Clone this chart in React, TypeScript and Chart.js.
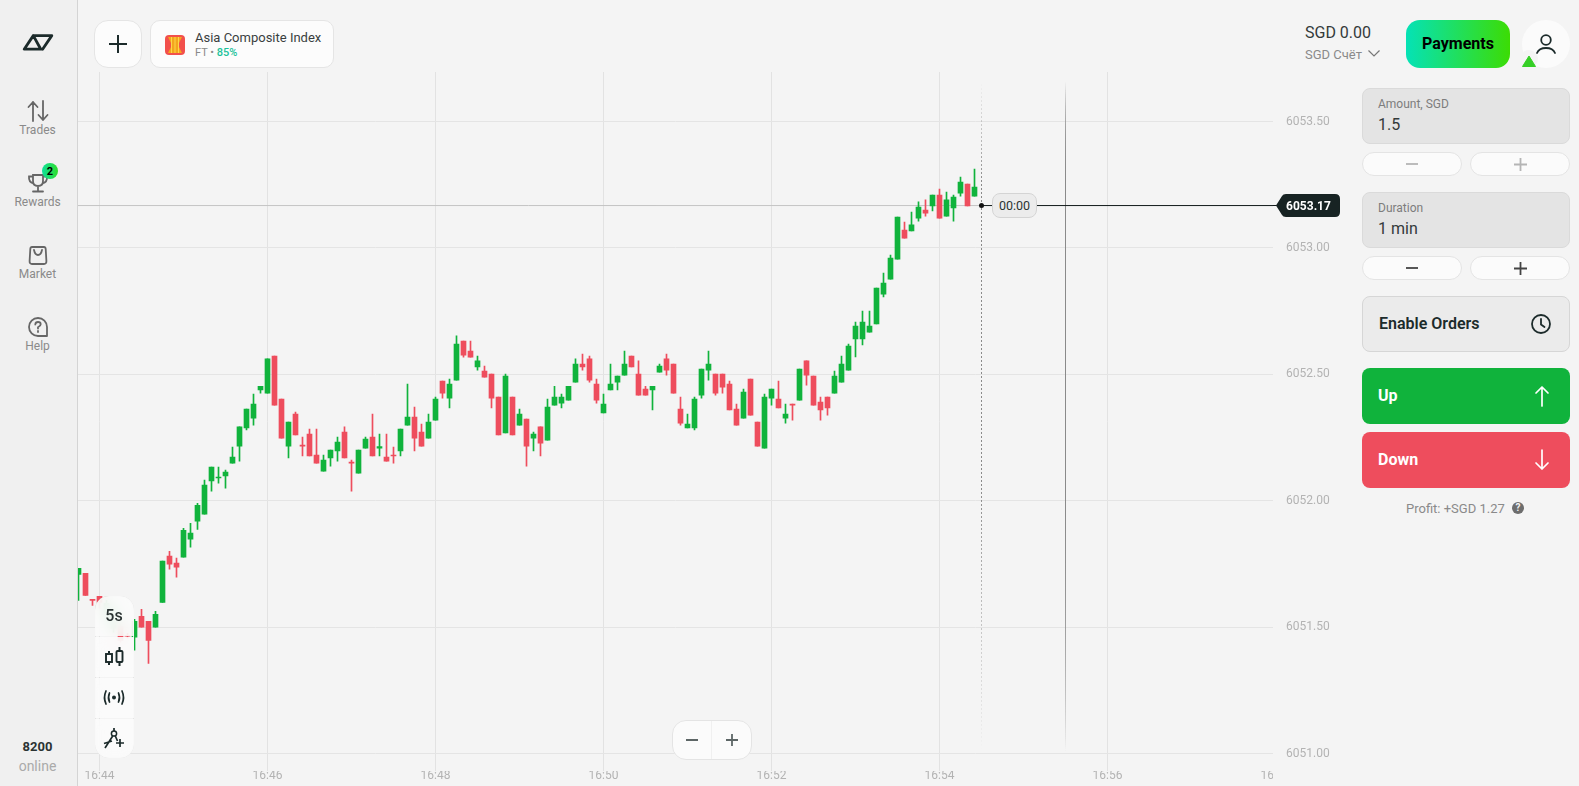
import React, { useEffect, useRef } from "react";
import { Chart, registerables } from "chart.js";

Chart.register(...registerables);

// 5-second candles; first candle opens 15 s before 16:44:00
const firstCandleSecond = -15;
const candleSeconds = 5;

const opens = [
  6051.709,6051.713,6051.610,6051.622,6051.559,6051.496,6051.503,6051.468,6051.460,6051.543,
  6051.523,6051.500,6051.598,6051.781,6051.753,6051.777,6051.848,6051.919,6051.947,6052.078,
  6052.090,6052.098,6052.149,6052.216,6052.288,6052.327,6052.438,6052.426,6052.572,6052.402,
  6052.216,6052.343,6052.220,6052.264,6052.181,6052.117,6052.169,6052.197,6052.272,6052.153,
  6052.109,6052.208,6052.252,6052.208,6052.173,6052.181,6052.197,6052.299,6052.331,6052.272,
  6052.248,6052.319,6052.473,6052.406,6052.477,6052.632,6052.592,6052.529,6052.513,6052.501,
  6052.410,6052.268,6052.410,6052.299,6052.323,6052.248,6052.292,6052.240,6052.378,6052.386,
  6052.398,6052.469,6052.541,6052.561,6052.462,6052.347,6052.438,6052.469,6052.497,6052.572,
  6052.501,6052.442,6052.438,6052.509,6052.561,6052.541,6052.363,6052.288,6052.288,6052.418,
  6052.517,6052.501,6052.501,6052.462,6052.363,6052.327,6052.481,6052.311,6052.208,6052.406,
  6052.402,6052.327,6052.382,6052.398,6052.553,6052.493,6052.390,6052.410,6052.426,6052.469,
  6052.517,6052.640,6052.640,6052.667,6052.699,6052.817,6052.877,6052.956,6053.071,6053.067,
  6053.118,6053.150,6053.166,6053.209,6053.126,6053.158,6053.217,6053.253,6053.205,
];
const highs = [
  6051.733,6051.713,6051.610,6051.622,6051.606,6051.575,6051.511,6051.476,6051.531,6051.571,
  6051.523,6051.563,6051.761,6051.800,6051.773,6051.891,6051.911,6051.990,6052.082,6052.133,
  6052.133,6052.121,6052.212,6052.292,6052.363,6052.422,6052.453,6052.561,6052.572,6052.402,
  6052.311,6052.351,6052.252,6052.284,6052.284,6052.181,6052.200,6052.252,6052.292,6052.161,
  6052.200,6052.252,6052.343,6052.264,6052.264,6052.212,6052.284,6052.462,6052.371,6052.303,
  6052.343,6052.410,6052.473,6052.481,6052.652,6052.632,6052.632,6052.572,6052.533,6052.501,
  6052.410,6052.501,6052.410,6052.363,6052.323,6052.272,6052.292,6052.402,6052.453,6052.422,
  6052.453,6052.561,6052.580,6052.572,6052.481,6052.422,6052.541,6052.493,6052.592,6052.572,
  6052.553,6052.453,6052.453,6052.541,6052.580,6052.541,6052.410,6052.343,6052.410,6052.521,
  6052.592,6052.501,6052.501,6052.473,6052.382,6052.442,6052.481,6052.311,6052.422,6052.442,
  6052.473,6052.382,6052.382,6052.521,6052.553,6052.493,6052.410,6052.410,6052.513,6052.572,
  6052.620,6052.707,6052.750,6052.750,6052.841,6052.901,6052.972,6053.122,6053.102,6053.142,
  6053.182,6053.190,6053.209,6053.233,6053.221,6053.209,6053.280,6053.253,6053.312,
];
const lows = [
  6051.606,6051.626,6051.586,6051.575,6051.547,6051.480,6051.440,6051.456,6051.409,6051.500,
  6051.357,6051.500,6051.598,6051.729,6051.698,6051.777,6051.816,6051.887,6051.947,6052.038,
  6052.070,6052.050,6052.149,6052.157,6052.280,6052.299,6052.426,6052.426,6052.378,6052.248,
  6052.169,6052.260,6052.177,6052.177,6052.149,6052.117,6052.137,6052.157,6052.169,6052.038,
  6052.109,6052.208,6052.177,6052.177,6052.157,6052.149,6052.177,6052.299,6052.197,6052.216,
  6052.248,6052.319,6052.406,6052.367,6052.477,6052.568,6052.568,6052.517,6052.489,6052.367,
  6052.260,6052.268,6052.260,6052.299,6052.137,6052.197,6052.177,6052.240,6052.378,6052.367,
  6052.398,6052.469,6052.517,6052.469,6052.386,6052.347,6052.438,6052.438,6052.497,6052.529,
  6052.418,6052.418,6052.359,6052.509,6052.497,6052.426,6052.299,6052.288,6052.280,6052.406,
  6052.477,6052.418,6052.426,6052.359,6052.299,6052.327,6052.339,6052.216,6052.208,6052.378,
  6052.367,6052.307,6052.319,6052.398,6052.457,6052.378,6052.319,6052.339,6052.426,6052.469,
  6052.517,6052.569,6052.616,6052.667,6052.699,6052.806,6052.877,6052.956,6053.039,6053.067,
  6053.106,6053.126,6053.146,6053.118,6053.126,6053.106,6053.205,6053.166,6053.205,
];
const closes = [
  6051.733,6051.626,6051.606,6051.598,6051.594,6051.559,6051.448,6051.464,6051.523,6051.500,
  6051.448,6051.551,6051.761,6051.749,6051.737,6051.883,6051.872,6051.982,6052.062,6052.133,
  6052.094,6052.113,6052.173,6052.292,6052.363,6052.382,6052.453,6052.561,6052.378,6052.248,
  6052.311,6052.260,6052.216,6052.177,6052.149,6052.161,6052.200,6052.232,6052.169,6052.149,
  6052.200,6052.244,6052.177,6052.214,6052.157,6052.177,6052.284,6052.331,6052.248,6052.216,
  6052.311,6052.402,6052.426,6052.462,6052.620,6052.576,6052.568,6052.553,6052.489,6052.406,
  6052.260,6052.493,6052.260,6052.343,6052.216,6052.264,6052.228,6052.371,6052.410,6052.410,
  6052.453,6052.541,6052.529,6052.477,6052.398,6052.382,6052.462,6052.493,6052.541,6052.529,
  6052.418,6052.418,6052.453,6052.533,6052.517,6052.426,6052.307,6052.303,6052.402,6052.521,
  6052.541,6052.426,6052.449,6052.359,6052.299,6052.430,6052.339,6052.216,6052.410,6052.442,
  6052.367,6052.343,6052.378,6052.521,6052.497,6052.378,6052.359,6052.367,6052.493,6052.541,
  6052.612,6052.691,6052.707,6052.691,6052.841,6052.861,6052.960,6053.122,6053.039,6053.091,
  6053.162,6053.138,6053.209,6053.118,6053.190,6053.201,6053.261,6053.166,6053.241,
];

const currentPrice = 6053.1677;
const nowSecond = 630; // 16:54:30
const expirySecond = 690; // 16:55:30
const timeAxisMin = -17.5;
const timeAxisMax = 840;
const priceAxisMin = 6050.931;
const priceAxisMax = 6053.696;
const priceTickStep = 0.5;
const timeTickStep = 120;
const startHour = 16;
const startMinute = 44;

const UP = "#10b33c";
const DOWN = "#ee4d5d";
const INK = "#1c2b2b";
const FONT = "Roboto, sans-serif";

const secondsLabel = (s: number) => {
  const total = startHour * 60 + startMinute + Math.round(s / 60);
  return `${Math.floor(total / 60)}:${String(total % 60).padStart(2, "0")}`;
};

type TP = { x: number; y: number; c?: string; s?: number; w?: number; center?: boolean; children: React.ReactNode };
const T = ({ x, y, c = "#333", s = 12, w = 400, center, children }: TP) => (
  <div
    style={{
      position: "absolute", left: x, top: y, color: c, fontSize: s, fontWeight: w, lineHeight: 1,
      whiteSpace: "nowrap", fontFamily: FONT,
      transform: center ? "translate(-50%,-50%)" : "translateY(-50%)",
    }}
  >
    {children}
  </div>
);

const Box = ({ x, y, w, h, bg, b, r, style, children }: any) => (
  <div
    style={{
      position: "absolute", left: x, top: y, width: w, height: h, background: bg,
      border: b ? `1px solid ${b}` : undefined, borderRadius: r, boxSizing: "border-box", ...style,
    }}
  >
    {children}
  </div>
);

const Svg = ({ x, y, w, h, vb, children }: any) => (
  <svg
    style={{ position: "absolute", left: x, top: y, overflow: "visible" }}
    width={w} height={h} viewBox={vb ?? `0 0 ${w} ${h}`} fill="none"
  >
    {children}
  </svg>
);

const Plus = ({ cx, cy, size = 14, c = "#555", sw = 1.8 }: any) => (
  <Svg x={cx - size / 2} y={cy - size / 2} w={size} h={size}>
    <path d={`M0 ${size / 2}H${size}M${size / 2} 0V${size}`} stroke={c} strokeWidth={sw} />
  </Svg>
);
const Minus = ({ cx, cy, size = 12, c = "#555", sw = 1.8 }: any) => (
  <Svg x={cx - size / 2} y={cy - 1} w={size} h={2}>
    <path d={`M0 1H${size}`} stroke={c} strokeWidth={sw} />
  </Svg>
);

const StepRow = ({ y, c }: { y: number; c: string }) => (
  <>
    <Box x={1362} y={y} w={100} h={24} bg="#fbfbfb" b="#e4e4e4" r={12} />
    <Box x={1470} y={y} w={100} h={24} bg="#fbfbfb" b="#e4e4e4" r={12} />
    <Minus cx={1412} cy={y + 12} c={c} />
    <Plus cx={1520} cy={y + 12} c={c} size={13} />
  </>
);

const Arrow = ({ cx, cy, down }: { cx: number; cy: number; down?: boolean }) => (
  <Svg x={cx - 7} y={cy - 10} w={14} h={20}>
    <path
      d={down ? "M7 0V19M1 13L7 19L13 13" : "M7 20V1M1 7L7 1L13 7"}
      stroke="#fff" strokeWidth={1.7} strokeLinecap="round" strokeLinejoin="round"
    />
  </Svg>
);

const Sidebar = () => (
  <>
    <Box x={0} y={0} w={78} h={786} bg="#f0f0f0" style={{ borderRight: "1px solid #d4d4d4", zIndex: 2 }} />
    <div style={{ position: "absolute", left: 0, top: 0, zIndex: 3 }}>
      <Svg x={23} y={34} w={30} h={17}>
        <path
          d="M10.3 1.6L1.2 15.2H17.8L10.3 1.6H28.8L19.6 15.2"
          stroke={INK} strokeWidth={2.8} strokeLinejoin="round" strokeLinecap="round"
        />
      </Svg>
      <Svg x={28} y={101} w={20} h={20}>
        <path d="M5 20V1M0.5 6L5 1L9.5 6M15 0V19M10.5 14L15 19L19.5 14" stroke="#666" strokeWidth={1.8} strokeLinecap="round" strokeLinejoin="round" />
      </Svg>
      <T x={37.5} y={129.5} c="#8a8a8a" center>Trades</T>
      <Svg x={28} y={174} w={20} h={18}>
        <path d="M5 1H15V7Q15 12 10 12Q5 12 5 7ZM5 2.5H1Q0.5 8 5.5 9.5M15 2.5H19Q19.5 8 14.5 9.5M10 12V17M5 17.5H15" stroke="#666" strokeWidth={1.8} strokeLinecap="round" />
      </Svg>
      <div style={{ position: "absolute", left: 42, top: 163, width: 16, height: 16, borderRadius: 8, background: "linear-gradient(90deg,#0de09a,#2fdc2a)" }} />
      <T x={50} y={171} c="#000" s={11} w={700} center>2</T>
      <T x={37.5} y={201.5} c="#8a8a8a" center>Rewards</T>
      <Svg x={29} y={246} w={18} h={19}>
        <path d="M3 1H15Q16.5 1 16.7 3L17.4 15Q17.5 18 15 18H3Q0.5 18 0.6 15L1.3 3Q1.5 1 3 1ZM5 4Q6 9 9 9Q12 9 13 4" stroke="#666" strokeWidth={1.8} strokeLinecap="round" />
      </Svg>
      <T x={37.5} y={273.5} c="#8a8a8a" center>Market</T>
      <Svg x={28} y={317} w={20} h={20}>
        <path d="M10 1A9 9 0 1 0 10 19H19V10A9 9 0 0 0 10 1Z" stroke="#666" strokeWidth={1.8} strokeLinejoin="round" />
        <path d="M7.3 7.5Q7.5 5 10 5Q12.7 5 12.7 7.3Q12.7 9 10 10.3V11.5M10 14V15" stroke="#666" strokeWidth={1.8} strokeLinecap="round" />
      </Svg>
      <T x={37.5} y={345.5} c="#8a8a8a" center>Help</T>
      <T x={37.5} y={745.5} c="#2b3333" s={13} w={700} center>8200</T>
      <T x={37.5} y={765.5} c="#aaaaaa" s={14} center>online</T>
    </div>
  </>
);

const TopBar = () => (
  <>
    <Box x={94} y={20} w={48} h={48} bg="#fcfcfc" b="#e5e5e5" r={14} />
    <Plus cx={118} cy={44} size={18} c={INK} sw={2} />
    <Box x={150} y={20} w={184} h={48} bg="#fcfcfc" b="#e5e5e5" r={10} />
    <Svg x={165} y={35} w={20} h={20}>
      <rect width="20" height="20" rx="4" fill="#f2504c" />
      <path d="M3 2H17Q14.5 7 13 10Q14.5 13 17 18H3Q5.5 13 7 10Q5.5 7 3 2Z" fill="#f4a51d" />
      <path d="M6.5 2V18M10 2V18M13.5 2V18" stroke="#fdd64a" strokeWidth={1} />
    </Svg>
    <T x={195} y={36.5} c="#3a3f3f" s={13}>Asia Composite Index</T>
    <T x={195} y={52} c="#8a8a8a" s={11}>
      FT • <span style={{ color: "#1cc29a", fontWeight: 500 }}>85%</span>
    </T>
    <T x={1305} y={33} c="#333a3a" s={16}>SGD 0.00</T>
    <T x={1305} y={53.5} c="#8a8a8a" s={13}>SGD Счёт</T>
    <Svg x={1368} y={50} w={12} h={7}>
      <path d="M0.5 0.5L6 6L11.5 0.5" stroke="#777" strokeWidth={1.2} />
    </Svg>
    <Box x={1406} y={20} w={104} h={48} r={14} style={{ background: "linear-gradient(90deg,#05e2b6,#3cdc04)" }} />
    <T x={1458} y={43.5} c="#000" s={16} w={700} center>Payments</T>
    <div style={{ position: "absolute", left: 1522, top: 20, width: 48, height: 48, borderRadius: 24, background: "#fbfbfb" }} />
    <Svg x={1536} y={34} w={20} h={20}>
      <circle cx="10" cy="6" r="4.8" stroke={INK} strokeWidth={1.8} />
      <path d="M1 19Q3 14 10 14Q17 14 19 19" stroke={INK} strokeWidth={1.8} strokeLinecap="round" />
    </Svg>
    <div style={{ position: "absolute", left: 1520, top: 50, width: 18, height: 18, borderRadius: 9, background: "#f4f4f4" }} />
    <Svg x={1522} y={55} w={14} h={12}>
      <path d="M7 1L13.5 11.5H0.5Z" fill="#35cf25" stroke="#35cf25" strokeLinejoin="round" />
    </Svg>
  </>
);

const TradePanel = () => (
  <>
    <Box x={1362} y={88} w={208} h={56} bg="#e4e4e4" b="#dadada" r={8} />
    <T x={1378} y={104} c="#7d7d7d" s={12}>Amount, SGD</T>
    <T x={1378} y={124.5} c="#333a3a" s={16}>1.5</T>
    <StepRow y={152} c="#b5b5b5" />
    <Box x={1362} y={192} w={208} h={56} bg="#e4e4e4" b="#dadada" r={8} />
    <T x={1378} y={208} c="#7d7d7d" s={12}>Duration</T>
    <T x={1378} y={228.5} c="#333a3a" s={16}>1 min</T>
    <StepRow y={256} c="#444" />
    <Box x={1362} y={296} w={208} h={56} bg="#ebebeb" b="#d6d6d6" r={8} />
    <T x={1379} y={323.5} c={INK} s={16} w={600}>Enable Orders</T>
    <Svg x={1531} y={314} w={20} h={20}>
      <circle cx="10" cy="10" r="9" stroke={INK} strokeWidth={1.8} />
      <path d="M10 5V10.5L13.5 13" stroke={INK} strokeWidth={1.8} strokeLinecap="round" />
    </Svg>
    <Box x={1362} y={368} w={208} h={56} bg={UP} r={8} />
    <T x={1378} y={396} c="#fff" s={16} w={700}>Up</T>
    <Arrow cx={1541.5} cy={396} />
    <Box x={1362} y={432} w={208} h={56} bg={DOWN} r={8} />
    <T x={1378} y={459.5} c="#fff" s={16} w={700}>Down</T>
    <Arrow cx={1541.5} cy={460} down />
    <T x={1406} y={507.5} c="#8a8a8a" s={13}>Profit: +SGD 1.27</T>
    <div style={{ position: "absolute", left: 1512, top: 502, width: 12, height: 12, borderRadius: 6, background: "#6d6d6d" }} />
    <T x={1518} y={508} c="#f4f4f4" s={10} w={700} center>?</T>
  </>
);

const rowStyle: React.CSSProperties = {
  background: "rgba(251,251,251,0.86)", backdropFilter: "blur(7px)", position: "relative",
};

const ToolPanel = () => (
  <div
    style={{
      position: "absolute", left: 95, top: 596, width: 39, height: 162, borderRadius: 14, overflow: "hidden",
      boxSizing: "border-box", boxShadow: "inset 0 0 0 1px #e4e4e4", display: "flex", flexDirection: "column", gap: 1,
    }}
  >
    <div style={{ ...rowStyle, height: 40 }} />
    <div style={{ ...rowStyle, height: 40 }} />
    <div style={{ ...rowStyle, height: 40 }} />
    <div style={{ ...rowStyle, flex: 1 }} />
  </div>
);

const ToolIcons = () => (
  <>
    <T x={114} y={616} c="#2b3333" s={16} w={500} center>5s</T>
    <Svg x={105} y={647} w={19} h={20}>
      <path d="M4 4V6M4 15V18M14.5 0V4M14.5 15V19" stroke={INK} strokeWidth={2} />
      <rect x="1" y="7" width="6" height="8" stroke={INK} strokeWidth={1.9} />
      <rect x="11.5" y="4" width="6" height="11" rx="1" stroke={INK} strokeWidth={1.9} />
    </Svg>
    <Svg x={104} y={690} w={20} h={15}>
      <circle cx="10" cy="7.5" r="2" fill={INK} />
      <path d="M5.5 3Q3.5 7.5 5.5 12M14.5 3Q16.5 7.5 14.5 12M2 1Q-1 7.5 2 14M18 1Q21 7.5 18 14" stroke={INK} strokeWidth={1.7} strokeLinecap="round" />
    </Svg>
    <Svg x={104} y={728} w={20} h={21}>
      <circle cx="10" cy="5.5" r="2.6" stroke={INK} strokeWidth={1.5} />
      <path d="M10 0V3M8.7 8L1 20M11.3 8L13.5 13M0 15.5L8 13M12 15H20M16 11V19" stroke={INK} strokeWidth={1.7} />
    </Svg>
  </>
);

const noScalePadding = (s: any) => {
  s.paddingTop = 0;
  s.paddingBottom = 0;
  s.paddingLeft = 0;
  s.paddingRight = 0;
};

export default function App() {
  const ref = useRef<HTMLCanvasElement>(null);

  useEffect(() => {
    const xs = opens.map((_, i) => firstCandleSecond + i * candleSeconds);
    const colors = opens.map((o, i) => (closes[i] >= o ? UP : DOWN));
    const fade = (color: string) => (c: any) => {
      const { ctx, chartArea } = c.chart;
      if (!chartArea) return color;
      const g = ctx.createLinearGradient(0, chartArea.top + 10, 0, chartArea.top + 680);
      g.addColorStop(0, "rgba(150,150,150,0)");
      g.addColorStop(0.15, color);
      g.addColorStop(0.6, color);
      g.addColorStop(1, "rgba(150,150,150,0)");
      return g;
    };
    const chart = new Chart(ref.current!, {
      type: "bar",
      data: {
        datasets: [
          {
            type: "line", data: [{ x: nowSecond, y: currentPrice }], pointRadius: 2.5,
            pointBackgroundColor: "#111", pointBorderWidth: 0, showLine: false, order: 0,
          },
          {
            type: "line", data: [{ x: timeAxisMin, y: currentPrice }, { x: nowSecond, y: currentPrice }],
            borderColor: "#c4c4c4", borderWidth: 1, pointRadius: 0, order: 4,
          },
          {
            type: "line", data: [{ x: nowSecond, y: currentPrice }, { x: timeAxisMax, y: currentPrice }],
            borderColor: "#111a1a", borderWidth: 1, pointRadius: 0, order: 1,
          },
          {
            type: "line", data: [{ x: nowSecond, y: priceAxisMax }, { x: nowSecond, y: 6051 }],
            borderColor: fade("#8a8a8a"), borderWidth: 1, borderDash: [2, 2], pointRadius: 0, order: 5,
          },
          {
            type: "line", data: [{ x: expirySecond, y: priceAxisMax }, { x: expirySecond, y: 6051 }],
            borderColor: fade("#8a8a8a"), borderWidth: 1, pointRadius: 0, order: 5,
          },
          {
            data: xs.map((x, i) => ({ x, y: [lows[i], highs[i]] })),
            backgroundColor: colors, barThickness: 1, borderWidth: 0, grouped: false, order: 3,
          },
          {
            data: xs.map((x, i) => ({ x, y: [opens[i], closes[i]] })),
            backgroundColor: colors, barThickness: 5, minBarLength: 1, borderWidth: 0, grouped: false, order: 2,
          },
        ] as any,
      },
      options: {
        animation: false,
        responsive: false,
        devicePixelRatio: 1,
        layout: { padding: 0, autoPadding: false },
        plugins: { legend: { display: false }, tooltip: { enabled: false }, title: { display: false } },
        scales: {
          x: {
            type: "linear", min: timeAxisMin, max: timeAxisMax, offset: false, position: "bottom",
            border: { display: false },
            grid: { color: "#e2e2e2", offset: false, drawTicks: false },
            afterFit: (s: any) => { s.height = 15; noScalePadding(s); },
            ticks: {
              stepSize: timeTickStep, includeBounds: false, autoSkip: false, maxRotation: 0, padding: -2,
              color: "#b3b3b3", font: { family: FONT, size: 12 },
              callback: (v: any) => secondsLabel(Number(v)),
            },
          },
          y: {
            type: "linear", position: "right", min: priceAxisMin, max: priceAxisMax, beginAtZero: false,
            border: { display: false },
            grid: { color: "#e4e4e4", drawTicks: false },
            afterFit: (s: any) => { s.width = 69.5; noScalePadding(s); },
            ticks: {
              stepSize: priceTickStep, includeBounds: false, padding: 10.5, crossAlign: "near",
              color: "#b3b3b3", font: { family: FONT, size: 12 },
              callback: (v: any) => Number(v).toFixed(2),
            },
          },
        },
      } as any,
    });
    return () => chart.destroy();
  }, []);

  return (
    <div style={{ position: "absolute", left: 0, top: 0, width: 1579, height: 786, overflow: "hidden", background: "#f4f4f4", fontFamily: FONT }}>
      <style>{"html,body{margin:0;padding:0;overflow:hidden;background:#f4f4f4}"}</style>
      <canvas ref={ref} width={1270} height={714} style={{ position: "absolute", left: 75, top: 72, display: "block", width: 1270, height: 714 }} />
      {/* the time axis is cut off where the plot ends */}
      <Box x={1273} y={72} w={3} h={714} bg="#f4f4f4" />
      <Box x={1273} y={766} w={72} h={20} bg="#f4f4f4" />
      <Box x={1273} y={205} w={4} h={1} bg="#111a1a" />
      <Sidebar />
      <ToolPanel />
      <ToolIcons />
      <TopBar />
      <TradePanel />
      <Box x={672} y={720} w={80} h={40} bg="#fbfbfb" b="#e4e4e4" r={14} />
      <div style={{ position: "absolute", left: 711, top: 721, width: 1, height: 38, background: "#f0f0f0" }} />
      <Minus cx={691.5} cy={740} size={12} c="#5d6666" sw={2} />
      <Plus cx={732} cy={740} size={12} c="#5d6666" sw={1.8} />
      <Box x={992} y={193} w={45} h={25} bg="#ececec" b="#d4d4d4" r={8} />
      <T x={1014.5} y={205.5} c="#2d3535" s={12.5} center>00:00</T>
      <Svg x={1275} y={194} w={66} h={23}>
        <path d="M1 11.5L7 2Q8 0 11 0H60Q65 0 65 5V18Q65 23 60 23H11Q8 23 7 21Z" fill="#172323" />
      </Svg>
      <T x={1308.5} y={205.5} c="#fff" s={12} w={700} center>{currentPrice.toFixed(2)}</T>
    </div>
  );
}
